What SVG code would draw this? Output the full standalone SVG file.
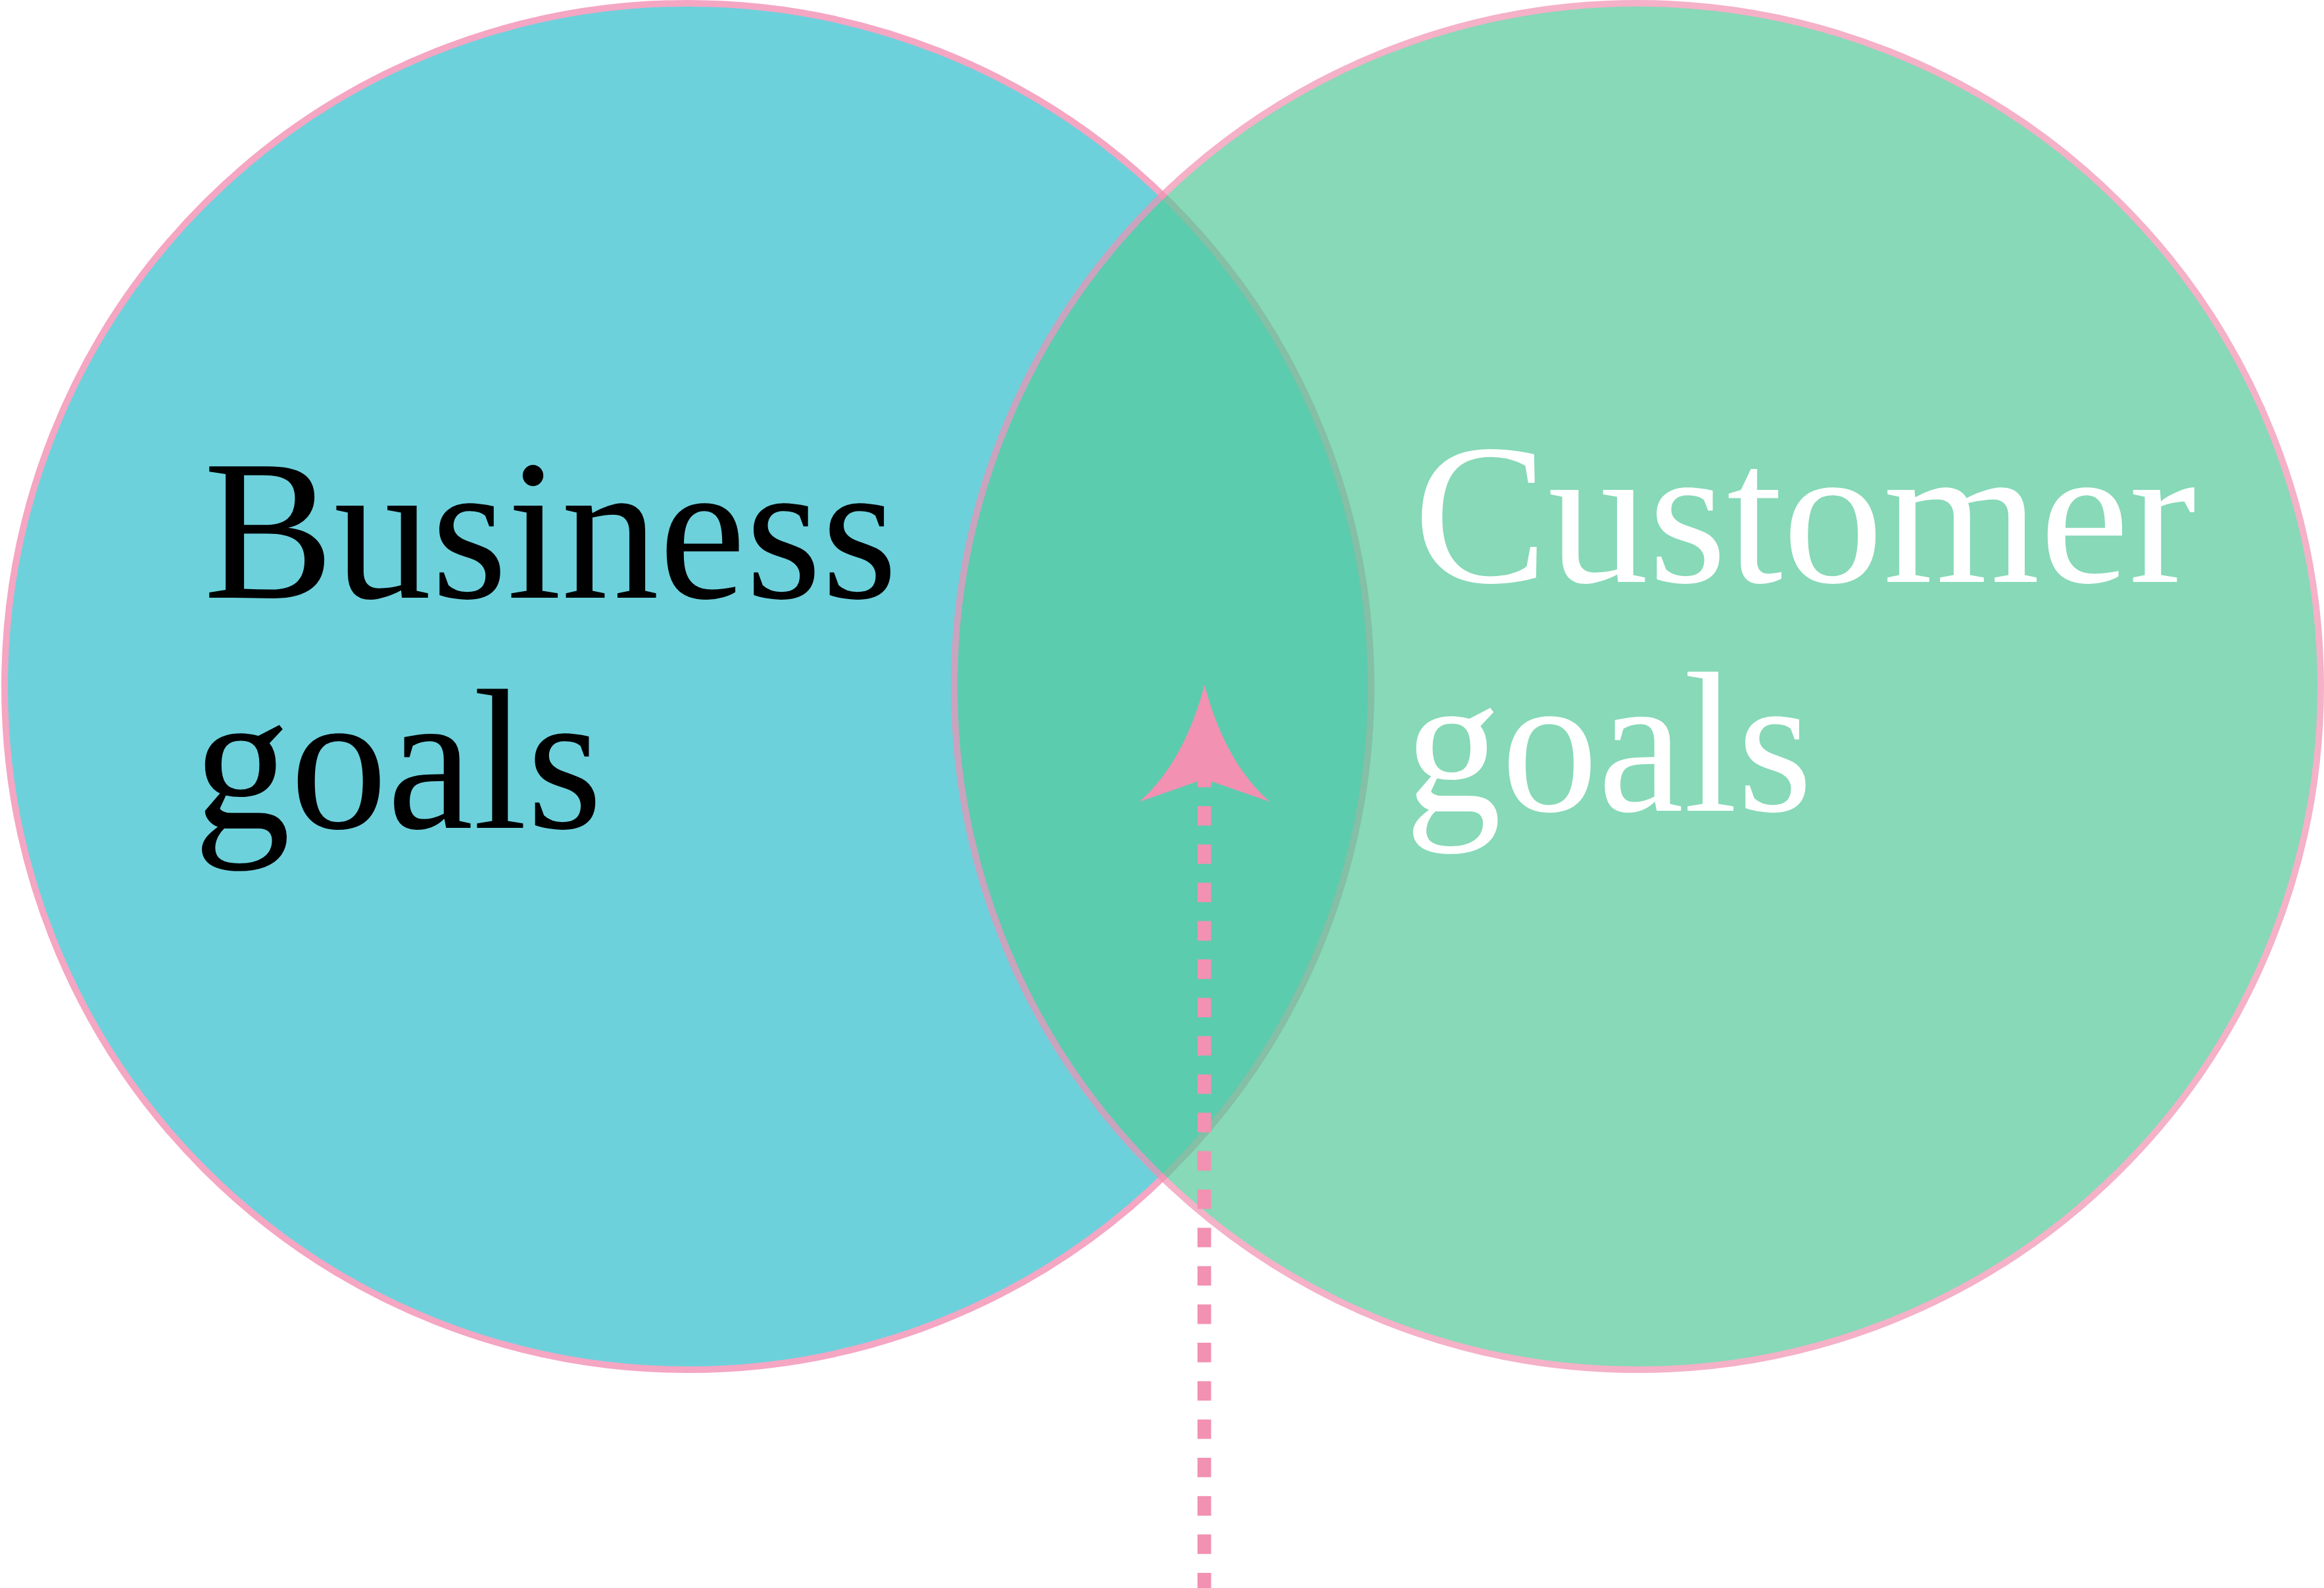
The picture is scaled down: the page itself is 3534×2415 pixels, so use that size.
<svg xmlns="http://www.w3.org/2000/svg" width="3534" height="2415" viewBox="0 0 3534 2415">
<style>
.lbl{font-family:"Liberation Serif","Times New Roman",serif;font-size:305px}
.dark{fill:#000000}
.light{fill:#ffffff}
</style>
<rect width="3534" height="2415" fill="#ffffff"/>
<g id="business">
<circle cx="1046" cy="1044" r="1039" fill="#6DD1DC" stroke="#F4A6C3" stroke-width="10"/>
</g>
<g id="customer" opacity="0.7">
<circle cx="2490" cy="1044" r="1039" fill="#55CA9B" stroke="#F091B2" stroke-width="10"/>
</g>
<g id="business-label">
<text class="lbl dark" x="309.7" y="909" textLength="1055" lengthAdjust="spacingAndGlyphs">Business</text>
<text class="lbl dark" x="294.4" y="1259" textLength="621.5" lengthAdjust="spacingAndGlyphs">goals</text>
</g>
<g id="customer-label">
<text class="lbl light" x="2149.5" y="885" textLength="1190" lengthAdjust="spacingAndGlyphs">Customer</text>
<text class="lbl light" x="2136.2" y="1233" textLength="620" lengthAdjust="spacingAndGlyphs">goals</text>
</g>
<g id="connectors">
<line x1="1831.3" y1="1167.6" x2="1831.3" y2="2425" stroke="#F291B2" stroke-width="20.7" stroke-dasharray="29.6 28.7"/>
<path d="M1831.7,1041.7 Q1800,1160 1732.7,1219.3 L1821,1188.3 L1841.7,1188.3 L1931,1219.3 Q1863,1160 1831.7,1041.7 Z" fill="#F291B2"/>
</g>
</svg>
